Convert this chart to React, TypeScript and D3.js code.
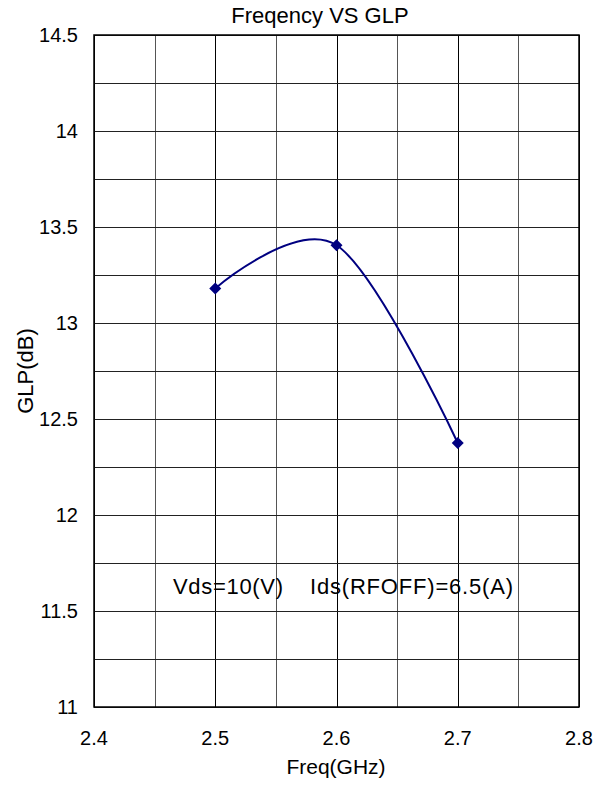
import React, { useEffect, useRef } from "react";
import * as d3 from "d3";

const freqs = [2.5, 2.6, 2.7];
const glp = [13.18, 13.405, 12.375];
const xTicks = [2.4, 2.5, 2.6, 2.7, 2.8];
const yTicks = [11, 11.5, 12, 12.5, 13, 13.5, 14, 14.5];

const App = () => {
  const ref = useRef<SVGSVGElement | null>(null);

  useEffect(() => {
    const svg = d3.select(ref.current);
    svg.selectAll("*").remove();

    const left = 94, right = 579, top = 35, bottom = 707;
    const font = "Arial, 'Liberation Sans', sans-serif";

    const x = d3.scaleLinear().domain([2.4, 2.8]).range([left, right]);
    const y = d3.scaleLinear().domain([11, 14.5]).range([bottom, top]);

    // grid: vertical every 0.05, horizontal every 0.25
    const vLines = d3.range(0, 9).map((i) => 2.4 + i * 0.05);
    const hLines = d3.range(0, 15).map((i) => 11 + i * 0.25);

    svg
      .append("g")
      .selectAll("line")
      .data(vLines)
      .enter()
      .append("line")
      .attr("x1", (d) => Math.round(x(d)) + 0.5)
      .attr("x2", (d) => Math.round(x(d)) + 0.5)
      .attr("y1", top)
      .attr("y2", bottom)
      .attr("stroke", (d, i) => (i % 2 === 0 ? "#000" : "#555"))
      .attr("stroke-width", 1);

    svg
      .append("g")
      .selectAll("line")
      .data(hLines)
      .enter()
      .append("line")
      .attr("x1", left)
      .attr("x2", right)
      .attr("y1", (d) => Math.round(y(d)) + 0.5)
      .attr("y2", (d) => Math.round(y(d)) + 0.5)
      .attr("stroke", "#222")
      .attr("stroke-width", 1);

    // frame
    svg
      .append("rect")
      .attr("x", left)
      .attr("y", top)
      .attr("width", right - left)
      .attr("height", bottom - top)
      .attr("fill", "none")
      .attr("stroke", "#000")
      .attr("stroke-width", 1.5);

    // tick labels
    svg
      .append("g")
      .selectAll("text")
      .data(xTicks)
      .enter()
      .append("text")
      .attr("x", (d) => x(d))
      .attr("y", bottom + 38)
      .attr("text-anchor", "middle")
      .attr("font-family", font)
      .attr("font-size", 20)
      .text((d) => d.toString());

    svg
      .append("g")
      .selectAll("text")
      .data(yTicks)
      .enter()
      .append("text")
      .attr("x", left - 16)
      .attr("y", (d) => y(d) + 7)
      .attr("text-anchor", "end")
      .attr("font-family", font)
      .attr("font-size", 20)
      .text((d) => d.toString());

    // titles
    svg
      .append("text")
      .attr("x", 320)
      .attr("y", 23)
      .attr("text-anchor", "middle")
      .attr("font-family", font)
      .attr("font-size", 22)
      .text("Freqency VS GLP");

    svg
      .append("text")
      .attr("x", 336)
      .attr("y", 774)
      .attr("text-anchor", "middle")
      .attr("font-family", font)
      .attr("font-size", 21)
      .text("Freq(GHz)");

    svg
      .append("text")
      .attr("transform", `translate(33,371) rotate(-90)`)
      .attr("text-anchor", "middle")
      .attr("font-family", font)
      .attr("font-size", 22)
      .text("GLP(dB)");

    // annotation
    svg
      .append("text")
      .attr("x", 173)
      .attr("y", 594)
      .attr("font-family", font)
      .attr("font-size", 22)
      .attr("textLength", 110)
      .attr("lengthAdjust", "spacing")
      .text("Vds=10(V)");

    svg
      .append("text")
      .attr("x", 310)
      .attr("y", 594)
      .attr("font-family", font)
      .attr("font-size", 22)
      .attr("textLength", 203)
      .attr("lengthAdjust", "spacing")
      .text("Ids(RFOFF)=6.5(A)");

    // series
    const pts = freqs.map((f, i) => [f, glp[i]] as [number, number]);
    const line = d3
      .line<[number, number]>()
      .x((d) => x(d[0]))
      .y((d) => y(d[1]))
      .curve(d3.curveCardinal.tension(0));

    svg
      .append("path")
      .datum(pts)
      .attr("d", line)
      .attr("fill", "none")
      .attr("stroke", "#000080")
      .attr("stroke-width", 2);

    svg
      .append("g")
      .selectAll("path")
      .data(pts)
      .enter()
      .append("path")
      .attr("transform", (d) => `translate(${x(d[0])},${y(d[1])})`)
      .attr("d", "M0,-6L6,0L0,6L-6,0Z")
      .attr("fill", "#000080");

    return () => {
      svg.selectAll("*").remove();
    };
  }, []);

  return (
    <div>
      <svg ref={ref} width={596} height={786} style={{ position: "absolute", left: 0, top: 0 }} />
    </div>
  );
};

export default App;
